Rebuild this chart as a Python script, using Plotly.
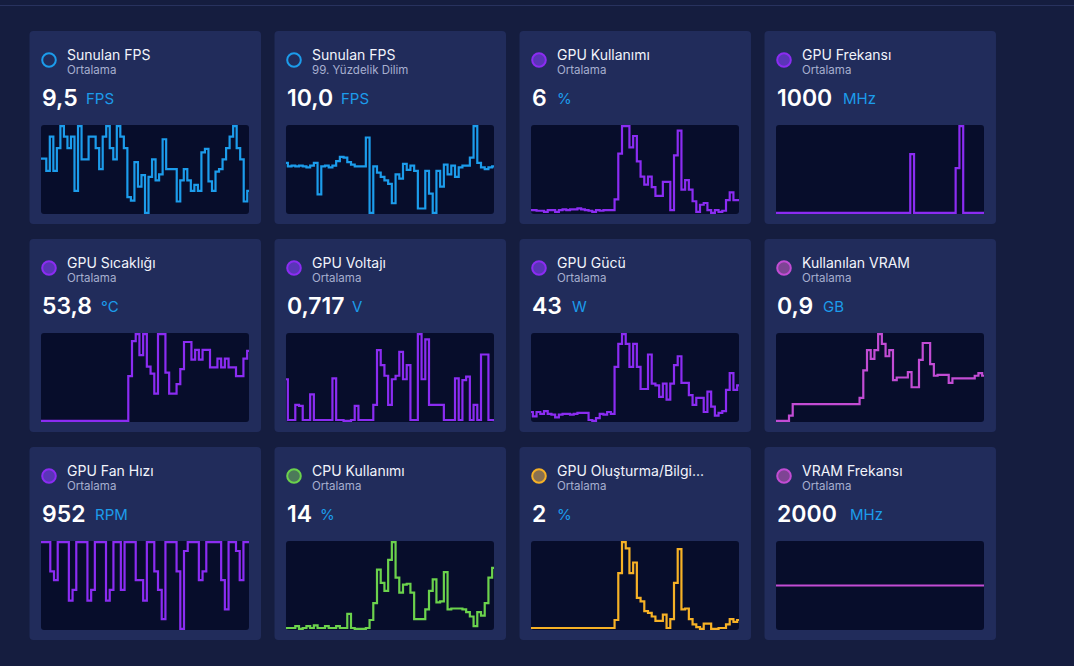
import plotly.graph_objects as go

W, H = 1074, 666
FONT = "Inter"
BG = "#151d3f"
CARD = "#212c5b"
BOX = "#070d2b"
BLUE = "#1c9ceb"
PURPLE = "#8b2cf2"
MAGENTA = "#c24cd4"
GREEN = "#6bd24c"
ORANGE = "#f6b126"

# ---------------- data ----------------
titles = ["Sunulan FPS", "Sunulan FPS", "GPU Kullanımı", "GPU Frekansı",
          "GPU Sıcaklığı", "GPU Voltajı", "GPU Gücü", "Kullanılan VRAM",
          "GPU Fan Hızı", "CPU Kullanımı", "GPU Oluşturma/Bilgi...", "VRAM Frekansı"]
subtitles = ["Ortalama", "99. Yüzdelik Dilim", "Ortalama", "Ortalama",
             "Ortalama", "Ortalama", "Ortalama", "Ortalama",
             "Ortalama", "Ortalama", "Ortalama", "Ortalama"]
value_labels = ["9,5", "10,0", "6", "1000", "53,8", "0,717", "43", "0,9",
                "952", "14", "2", "2000"]
units = ["FPS", "FPS", "%", "MHz", "°C", "V", "W", "GB", "RPM", "%", "%", "MHz"]

fps_avg = [10.3, 10.3, 8.9, 12.8, 8.9, 11.5, 14.0, 12.8, 11.5, 12.8, 6.6, 14.0, 10.2, 10.2,
           12.8, 12.8, 11.5, 9.1, 12.8, 14.0, 11.5, 10.2, 14.0, 12.8, 11.5, 5.9, 5.5, 9.9,
           7.1, 8.4, 4.1, 8.2, 10.2, 7.8, 8.5, 12.5, 9.1, 9.1, 9.1, 5.4, 7.8, 9.1, 7.8, 6.6,
           7.3, 6.6, 11.0, 11.4, 7.7, 6.6, 8.8, 9.1, 10.2, 11.5, 12.8, 14.0, 11.5, 10.2, 5.4, 6.6]
fps_p99 = [9.8, 9.4, 9.5, 9.4, 9.5, 9.4, 9.3, 9.5, 9.8, 6.2, 9.4, 9.5, 9.3, 9.5, 10.0, 10.5,
           10.4, 9.9, 9.6, 9.4, 9.4, 9.4, 12.7, 4.1, 9.4, 8.7, 8.2, 7.8, 7.4, 5.2, 8.5, 8.0,
           9.7, 9.0, 9.5, 8.9, 4.6, 4.6, 8.9, 6.3, 4.1, 8.9, 7.1, 9.6, 8.5, 9.5, 8.2, 9.3,
           9.5, 9.5, 10.4, 14.0, 9.8, 9.3, 9.1, 9.3, 9.4]
gpu_util = [1.0, 1.0, 0.8, 0.8, 0.5, 1.0, 1.0, 0.5, 1.0, 1.2, 1.0, 1.2, 1.2, 1.5, 1.2, 1.0,
            0.8, 0.5, 1.0, 0.8, 1.0, 1.0, 1.0, 4.0, 17.0, 24.8, 24.8, 18.8, 22.0, 14.8, 10.5,
            8.2, 10.5, 7.5, 5.0, 5.0, 9.0, 9.0, 1.0, 16.5, 23.5, 6.8, 9.5, 6.8, 3.5, 0.5, 2.5,
            3.0, 1.0, 0.2, 1.0, 0.5, 0.8, 3.8, 6.0, 3.8, 3.8]
gpu_clock = [950, 950, 950, 950, 950, 950, 950, 950, 950, 950, 950, 950, 950, 950, 950, 950,
             950, 950, 950, 950, 950, 950, 950, 950, 950, 950, 950, 950, 950, 950, 950, 950,
             950, 950, 950, 950, 1620, 950, 950, 950, 950, 950, 950, 950, 950, 950, 950, 950,
             1460, 1940, 950, 950, 950, 950, 950, 950]
gpu_temp = [45.0, 45.0, 45.0, 45.0, 45.0, 45.0, 45.0, 45.0, 45.0, 45.0, 45.0, 45.0, 45.0,
            45.0, 45.0, 45.0, 45.0, 45.0, 45.0, 45.0, 45.0, 45.0, 45.0, 45.0,
            55.2, 63.2, 64.8, 60.0, 64.8, 57.4, 55.8, 51.2, 64.8, 64.8, 56.0, 51.2, 51.2, 53.4,
            56.8, 63.0, 63.0, 59.0, 61.2, 59.0, 61.2, 61.2, 57.2, 57.2, 59.2, 57.2, 59.2, 57.2,
            57.2, 55.2, 55.2, 59.2, 61.0]
gpu_volt = [0.794, 0.656, 0.656, 0.707, 0.704, 0.656, 0.656, 0.743, 0.656, 0.656, 0.656,
            0.656, 0.656, 0.797, 0.656, 0.656, 0.653, 0.653, 0.656, 0.704, 0.656, 0.656,
            0.656, 0.656, 0.707, 0.893, 0.842, 0.806, 0.707, 0.794, 0.806, 0.887, 0.794,
            0.842, 0.656, 0.656, 0.947, 0.794, 0.929, 0.707, 0.707, 0.707, 0.707, 0.656,
            0.656, 0.656, 0.797, 0.656, 0.791, 0.803, 0.656, 0.707, 0.656, 0.878, 0.878,
            0.656, 0.656]
gpu_power = [26.6, 23.6, 26.6, 25.4, 27.2, 25.4, 24.8, 23.0, 24.8, 25.4, 25.4, 24.8, 25.4,
             26.0, 26.0, 26.0, 21.2, 20.6, 22.4, 25.4, 24.8, 26.6, 25.4, 57.2, 72.8, 79.4,
             72.8, 57.2, 72.8, 57.2, 42.2, 42.2, 65.6, 45.8, 44.6, 36.8, 45.8, 35.0, 45.8,
             58.4, 64.4, 46.4, 46.4, 38.0, 31.4, 36.2, 36.2, 26.6, 40.4, 30.2, 24.2, 26.0,
             27.2, 41.6, 53.0, 41.6, 44.6]
vram_used = [0.41, 0.41, 0.41, 0.41, 0.47, 0.60, 0.60, 0.60, 0.60, 0.60, 0.60, 0.60, 0.60,
             0.60, 0.60, 0.60, 0.60, 0.60, 0.60, 0.60, 0.60, 0.60, 0.60, 0.67, 0.98, 1.21,
             1.11, 1.21, 1.39, 1.28, 1.14, 1.21, 0.87, 0.90, 0.90, 0.90, 0.96, 0.79, 0.79,
             1.10, 1.29, 1.29, 1.05, 0.92, 0.93, 0.93, 0.93, 0.84, 0.89, 0.89, 0.89, 0.89,
             0.89, 0.89, 0.92, 0.95, 0.92]
fan_rpm = [997, 997, 997, 898, 868, 997, 997, 997, 799, 835, 997, 997, 997, 799, 835, 997,
           997, 997, 799, 835, 997, 997, 835, 997, 997, 997, 868, 868, 799, 997, 997, 898,
           835, 736, 997, 997, 997, 898, 703, 967, 997, 997, 997, 868, 898, 997, 997, 997,
           997, 868, 769, 997, 997, 967, 868, 997, 997]
cpu_util = [1.0, 1.0, 1.0, 2.0, 0.5, 1.0, 2.0, 1.0, 2.5, 1.0, 1.0, 2.0, 1.0, 1.0, 2.0, 1.0,
            1.0, 9.0, 1.0, 0.5, 0.5, 0.5, 1.0, 5.5, 15.0, 34.0, 26.5, 22.0, 39.5, 49.5, 29.5,
            21.0, 25.5, 26.0, 21.0, 6.0, 6.0, 6.0, 11.5, 22.0, 28.5, 15.5, 16.0, 32.5, 11.5,
            12.0, 12.0, 12.0, 11.5, 10.0, 7.5, 2.0, 10.0, 8.0, 15.0, 29.5, 35.0]
render_util = [0.2, 0.2, 0.2, 0.2, 0.2, 0.2, 0.2, 0.2, 0.2, 0.2, 0.2, 0.2, 0.2, 0.2, 0.2,
               0.2, 0.2, 0.2, 0.2, 0.2, 0.2, 0.2, 0.2, 1.1, 6.4, 9.9, 9.2, 6.4, 7.6, 3.6,
               3.2, 2.1, 1.9, 1.5, 1.0, 1.0, 1.7, 0.2, 1.2, 5.3, 9.1, 2.3, 2.4, 1.2, 0.6,
               0.3, 0.1, 0.7, 0.7, 0.1, 0.1, 0.2, 0.2, 0.6, 1.2, 0.9, 1.1]
vram_clock = [2000, 2000, 2000, 2000, 2000, 2000, 2000, 2000, 2000, 2000, 2000, 2000,
              2000, 2000, 2000, 2000, 2000, 2000, 2000, 2000]

series = [fps_avg, fps_p99, gpu_util, gpu_clock, gpu_temp, gpu_volt, gpu_power,
          vram_used, fan_rpm, cpu_util, render_util, vram_clock]

# ---------------- style / layout ----------------
line_colors = [BLUE, BLUE, PURPLE, PURPLE, PURPLE, PURPLE, PURPLE, MAGENTA,
               PURPLE, GREEN, ORANGE, MAGENTA]
icon_fill = ["rgba(0,0,0,0)", "rgba(0,0,0,0)", "#5a35b8", "#5a35b8", "#5a35b8", "#5a35b8",
             "#5a35b8", "#7e4494", "#5a35b8", "#4c7a5a", "#8a7150", "#7e4494"]
unit_dx = [55.5, 65.5, 37, 77.5, 70.5, 76.5, 52, 57.5, 64.5, 44.5, 37, 84.5]

CARD_X = [29.5, 274.5, 519.5, 764.5]
CARD_Y = [31, 239, 447]
CW, CH = 231.5, 193


def px(x):
    return x / W


def py(y):
    return 1 - y / H


def rrect(x0, y0, x1, y1, r):
    pts = [("M", [(x0 + r, y0)]), ("L", [(x1 - r, y0)]), ("Q", [(x1, y0), (x1, y0 + r)]),
           ("L", [(x1, y1 - r)]), ("Q", [(x1, y1), (x1 - r, y1)]), ("L", [(x0 + r, y1)]),
           ("Q", [(x0, y1), (x0, y1 - r)]), ("L", [(x0, y0 + r)]),
           ("Q", [(x0, y0), (x0 + r, y0)])]
    s = ""
    for cmd, ps in pts:
        s += cmd + " " + " ".join(f"{px(a):.6f},{py(b):.6f}" for a, b in ps) + " "
    return s + "Z"


fig = go.Figure()
shapes = []
annotations = []
layout_axes = {}

shapes.append(dict(type="line", xref="paper", yref="paper", x0=0, x1=1, y0=py(5.5), y1=py(5.5),
                   line=dict(color="#28325e", width=1), layer="below"))

for k in range(12):
    r, c = divmod(k, 4)
    cx, cy = CARD_X[c], CARD_Y[r]
    shapes.append(dict(type="path", path=rrect(cx, cy, cx + CW, cy + CH, 4), xref="paper",
                       yref="paper", fillcolor=CARD, line=dict(width=0), layer="below"))
    bx0, by0, bx1, by1 = cx + 11.5, cy + 94, cx + 11.5 + 208, cy + 183
    shapes.append(dict(type="path", path=rrect(bx0, by0, bx1, by1, 3), xref="paper",
                       yref="paper", fillcolor=BOX, line=dict(width=0), layer="below"))
    # icon
    icx, icy, ir = cx + 19.5, cy + 29, 6.8
    shapes.append(dict(type="circle", xref="paper", yref="paper",
                       x0=px(icx - ir), x1=px(icx + ir), y0=py(icy + ir), y1=py(icy - ir),
                       fillcolor=icon_fill[k], line=dict(color=line_colors[k], width=2)))
    # texts
    annotations.append(dict(text=titles[k], x=px(cx + 35.5), y=py(cy + 23), xref="paper",
                            yref="paper", xanchor="left", yanchor="middle", showarrow=False,
                            font=dict(family=FONT, size=14, color="#f2f4fb")))
    annotations.append(dict(text=subtitles[k], x=px(cx + 35.5), y=py(cy + 38.5), xref="paper",
                            yref="paper", xanchor="left", yanchor="middle", showarrow=False,
                            font=dict(family=FONT, size=11.5, color="#a7afcf")))
    annotations.append(dict(text=value_labels[k], x=px(cx + 10), y=py(cy + 67), xref="paper",
                            yref="paper", xanchor="left", yanchor="middle", showarrow=False,
                            font=dict(family=FONT, size=23, color="#ffffff", weight=600)))
    annotations.append(dict(text=units[k], x=px(cx + unit_dx[k] - 1.5), y=py(cy + 67.5),
                            xref="paper", yref="paper", xanchor="left", yanchor="middle",
                            showarrow=False, font=dict(family=FONT, size=15, color=BLUE)))

    vals = series[k]
    n = len(vals)
    lo, hi = min(vals), max(vals)
    if hi - lo < 1e-9:
        rng = [lo - 1, hi + 1]
    else:
        pad = (hi - lo) * 0.013
        rng = [lo - pad, hi + pad]
    sfx = "" if k == 0 else str(k + 1)
    fig.add_trace(go.Scatter(x=list(range(n)), y=vals, mode="lines",
                             line=dict(color=line_colors[k], width=2.2, shape="hvh"),
                             xaxis="x" + sfx, yaxis="y" + sfx, hoverinfo="skip",
                             showlegend=False))
    layout_axes["xaxis" + sfx] = dict(domain=[px(bx0), px(bx1)], range=[0, n - 1],
                                      visible=False, fixedrange=True, anchor="y" + sfx)
    layout_axes["yaxis" + sfx] = dict(domain=[py(by1), py(by0)], range=rng,
                                      visible=False, fixedrange=True, anchor="x" + sfx)

fig.update_layout(width=W, height=H, autosize=False, margin=dict(l=0, r=0, t=0, b=0),
                  paper_bgcolor=BG, plot_bgcolor="rgba(0,0,0,0)", shapes=shapes,
                  annotations=annotations, showlegend=False, **layout_axes)

fig.write_html("out.html")
